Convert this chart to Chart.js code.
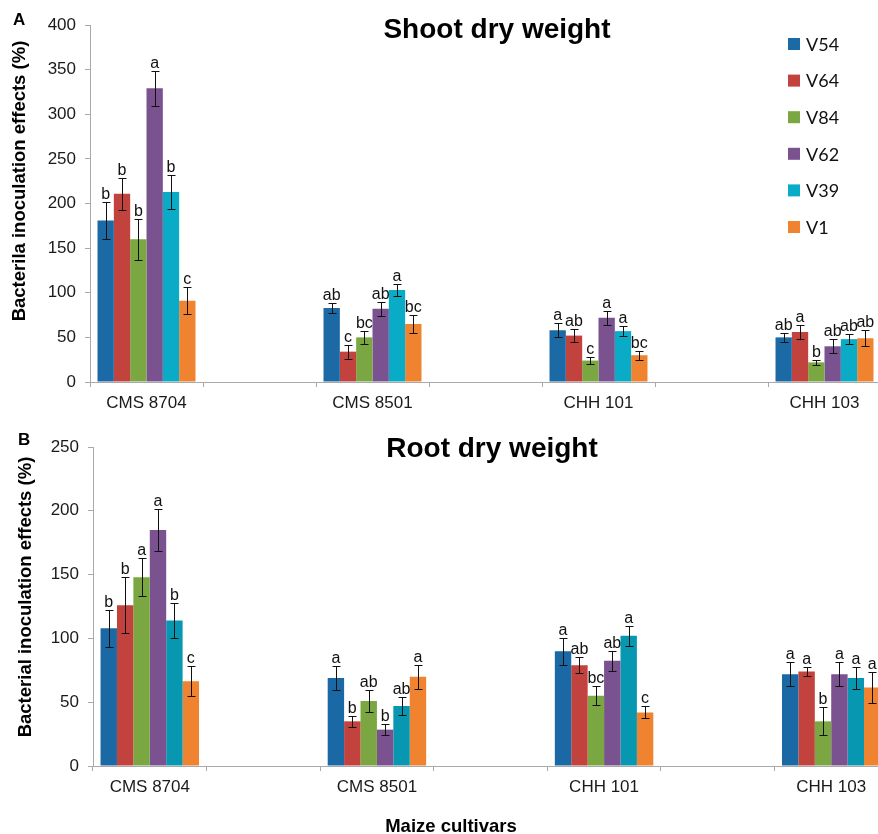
<!DOCTYPE html>
<html>
<head>
<meta charset="utf-8">
<script src="https://cdn.jsdelivr.net/npm/chart.js@4.4.1/dist/chart.umd.min.js"></script>
<style>
  html, body { margin: 0; padding: 0; background: #fff; overflow: hidden; }
  body { width: 878px; height: 834px; position: relative; }
  canvas { position: absolute; left: 0; }
  #shoot { top: 0; }
  #root { top: 412px; }
</style>
</head>
<body>
<canvas id="shoot" width="881" height="412"></canvas>
<canvas id="root" width="888" height="422"></canvas>
<script>
// 품종 / 균주
const cultivars = ['CMS 8704', 'CMS 8501', 'CHH 101', 'CHH 103'];
const strains = ['V54', 'V64', 'V84', 'V62', 'V39', 'V1'];

// A: shoot dry weight (%), per strain over the 4 cultivars
const shootV54 = [181, 83, 58, 50];
const shootV64 = [211, 34, 52, 56];
const shootV84 = [160, 50, 24, 22];
const shootV62 = [329, 82, 72, 40];
const shootV39 = [213, 103, 57, 48];
const shootV1  = [91, 65, 30, 49];

const shootErrV54 = [21, 6, 8, 5];
const shootErrV64 = [18, 8, 7, 7.5];
const shootErrV84 = [23, 7, 4, 3];
const shootErrV62 = [20, 8, 8, 8];
const shootErrV39 = [19, 6.5, 5.5, 5.5];
const shootErrV1  = [15, 10, 5, 9];

const shootLetV54 = ['b', 'ab', 'a', 'ab'];
const shootLetV64 = ['b', 'c', 'ab', 'a'];
const shootLetV84 = ['b', 'bc', 'c', 'b'];
const shootLetV62 = ['a', 'ab', 'a', 'ab'];
const shootLetV39 = ['b', 'a', 'a', 'ab'];
const shootLetV1  = ['c', 'bc', 'bc', 'ab'];

// B: root dry weight (%)
const rootV54 = [108, 69, 90, 72];
const rootV64 = [126, 35, 79, 74];
const rootV84 = [148, 51, 55, 35];
const rootV62 = [185, 28.5, 82.5, 72];
const rootV39 = [114, 47, 102, 69];
const rootV1  = [66.5, 70, 42, 61.5];

const rootErrV54 = [14.6, 9.6, 10.5, 9.6];
const rootErrV64 = [22, 4.3, 6.3, 3.7];
const rootErrV84 = [15, 8.4, 7.5, 11];
const rootErrV62 = [16.7, 4.2, 7.8, 9.2];
const rootErrV39 = [14, 6.7, 7.6, 8.8];
const rootErrV1  = [11.5, 9.3, 4.7, 12.4];

const rootLetV54 = ['b', 'a', 'a', 'a'];
const rootLetV64 = ['b', 'b', 'ab', 'a'];
const rootLetV84 = ['a', 'ab', 'bc', 'b'];
const rootLetV62 = ['a', 'b', 'ab', 'a'];
const rootLetV39 = ['b', 'ab', 'a', 'a'];
const rootLetV1  = ['c', 'a', 'c', 'a'];

const shootTicks = [0, 50, 100, 150, 200, 250, 300, 350, 400];
const rootTicks = [0, 50, 100, 150, 200, 250];

const shootColors = ['#1b69a5', '#c2423e', '#7aa742', '#7a528f', '#0aabc6', '#f0832f'];
const rootColors  = ['#1a69a4', '#c2423e', '#7aa742', '#7a528f', '#0897b0', '#f0832f'];

// blank category between each cultivar, like the excel original
function toSlots(arr){
    const out = [];
    arr.forEach((v, i)=>{
        out.push(v);
        if (i < arr.length - 1) out.push(null);
    });
    return out;
}

const FONT = '"Liberation Sans", Arial, sans-serif';

const extras = {
    id: 'extras',
    afterDatasetsDraw(chart, args, opts){
        const ctx = chart.ctx;
        const y = chart.scales.y;
        ctx.save();
        // error bars + letters
        chart.data.datasets.forEach((ds, i)=>{
            const meta = chart.getDatasetMeta(i);
            ds.data.forEach((v, j)=>{
                if (v === null) return;
                const e = ds.err[j];
                const x = meta.data[j].x;
                const top = Math.round(y.getPixelForValue(v + e)) + 0.5;
                const bot = Math.round(y.getPixelForValue(v - e)) + 0.5;
                const xx = Math.round(x) + 0.5;
                ctx.strokeStyle = '#111';
                ctx.lineWidth = 1;
                ctx.beginPath();
                ctx.moveTo(xx, top); ctx.lineTo(xx, bot);
                ctx.moveTo(xx - 4, top); ctx.lineTo(xx + 4, top);
                ctx.moveTo(xx - 4, bot); ctx.lineTo(xx + 4, bot);
                ctx.stroke();
                ctx.fillStyle = '#111';
                ctx.font = '16px ' + FONT;
                ctx.textAlign = 'center';
                ctx.textBaseline = 'alphabetic';
                ctx.fillText(ds.letters[j], x, top - 4);
            });
        });

        // panel letter + title
        ctx.fillStyle = '#000';
        ctx.textAlign = 'left';
        ctx.textBaseline = 'alphabetic';
        ctx.font = 'bold 17px ' + FONT;
        ctx.fillText(opts.panel, opts.panelX, opts.panelY);
        ctx.textAlign = 'center';
        ctx.font = 'bold 28px ' + FONT;
        ctx.fillText(opts.title, opts.titleX, opts.titleY);

        // y axis title
        ctx.font = 'bold 18.5px ' + FONT;
        ctx.textBaseline = 'middle';
        ctx.save();
        ctx.translate(opts.yTitleX, opts.yTitleY);
        ctx.rotate(-Math.PI / 2);
        ctx.fillText(opts.yTitle, 0, 0);
        ctx.restore();

        if (opts.xTitle) {
            ctx.textBaseline = 'alphabetic';
            ctx.fillText(opts.xTitle, opts.xTitleX, opts.xTitleY);
        }

        // legend
        if (opts.legend) {
            ctx.textAlign = 'left';
            ctx.textBaseline = 'middle';
            ctx.font = '18px Lato, "Open Sans", sans-serif';
            chart.data.datasets.forEach((ds, i)=>{
                const cy = opts.legendY + i * 36.6;
                ctx.fillStyle = ds.backgroundColor;
                ctx.fillRect(opts.legendX, cy - 6, 12, 12);
                ctx.fillStyle = '#111';
                ctx.fillText(ds.label, opts.legendX + 18, cy + 1);
            });
        }
        ctx.restore();
    }
};

function makeDatasets(values, errs, letters, colors){
    return strains.map((s, i)=>({
        label: s,
        data: toSlots(values[i]),
        err: toSlots(errs[i]),
        letters: toSlots(letters[i]),
        backgroundColor: colors[i],
        borderWidth: 0,
        categoryPercentage: 0.867,
        barPercentage: 1.0,
    }));
}

function drawchart(canvas, datasets, ticks, yWidth, xHeight, padTop, extraOpts){
    const config = {
        type: 'bar',
        data: {
            labels: toSlots(cultivars).map(c => c === null ? '' : c),
            datasets: datasets,
        },
        options: {
            responsive: false,
            animation: false,
            devicePixelRatio: 1,
            layout: { padding: { top: padTop, right: 0, left: 0, bottom: 0 } },
            plugins: {
                legend: { display: false },
                tooltip: { enabled: false },
                extras: extraOpts,
            },
            scales: {
                x: {
                    offset: true,
                    grid: { display: true, drawOnChartArea: false, offset: true, tickLength: 5, color: '#a9a9a9' },
                    border: { color: '#a9a9a9' },
                    ticks: { color: '#1a1a1a', font: { family: FONT, size: 17 }, padding: 6, maxRotation: 0, autoSkip: false },
                    afterFit(scale){ scale.height = xHeight; },
                },
                y: {
                    min: ticks[0],
                    max: ticks[ticks.length - 1],
                    afterBuildTicks(scale){ scale.ticks = ticks.map(v => ({ value: v })); },
                    grid: { display: true, drawOnChartArea: false, tickLength: 5, color: '#a9a9a9' },
                    border: { color: '#a9a9a9' },
                    ticks: { color: '#1a1a1a', font: { family: FONT, size: 17 }, padding: 9 },
                    afterFit(scale){ scale.width = yWidth; },
                },
            },
        },
        plugins: [extras],
    };
    return new Chart(canvas, config);
}

drawchart(
    document.querySelector('#shoot'),
    makeDatasets(
        [shootV54, shootV64, shootV84, shootV62, shootV39, shootV1],
        [shootErrV54, shootErrV64, shootErrV84, shootErrV62, shootErrV39, shootErrV1],
        [shootLetV54, shootLetV64, shootLetV84, shootLetV62, shootLetV39, shootLetV1],
        shootColors),
    shootTicks, 90, 30, 25,
    {
        panel: 'A', panelX: 13, panelY: 25,
        title: 'Shoot dry weight', titleX: 497, titleY: 38,
        yTitle: 'Bacterila inoculation effects (%)', yTitleX: 20, yTitleY: 181,
        legend: true, legendX: 788, legendY: 44,
    }
);

drawchart(
    document.querySelector('#root'),
    makeDatasets(
        [rootV54, rootV64, rootV84, rootV62, rootV39, rootV1],
        [rootErrV54, rootErrV64, rootErrV84, rootErrV62, rootErrV39, rootErrV1],
        [rootLetV54, rootLetV64, rootLetV84, rootLetV62, rootLetV39, rootLetV1],
        rootColors),
    rootTicks, 93, 68, 35,
    {
        panel: 'B', panelX: 18, panelY: 33,
        title: 'Root dry weight', titleX: 492, titleY: 45,
        yTitle: 'Bacterial inoculation effects (%)', yTitleX: 26, yTitleY: 185,
        xTitle: 'Maize cultivars', xTitleX: 451, xTitleY: 420,
        legend: false,
    }
);
</script>
</body>
</html>
